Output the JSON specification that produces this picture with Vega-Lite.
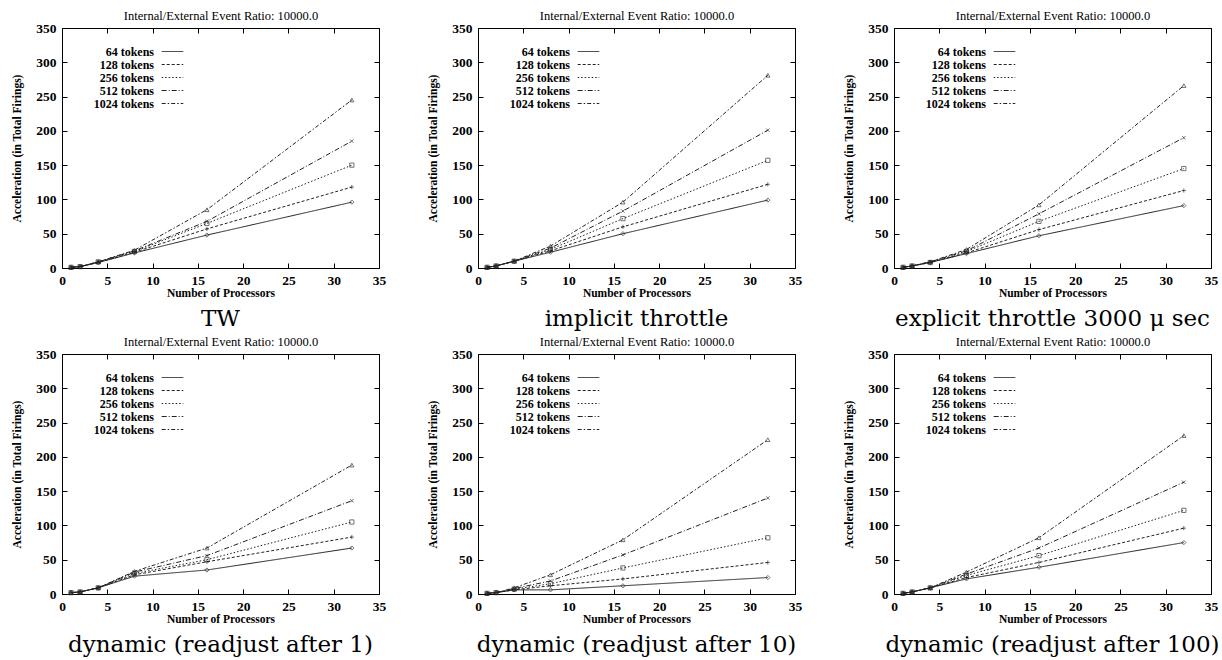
{
  "$schema": "https://vega.github.io/schema/vega-lite/v6.json",
  "background": "white",
  "padding": {"left": 11, "top": 9, "right": 0, "bottom": 0},
  "data": {"values": [
    {"panel":"TW","series":"64 tokens","procs":1,"accel":1},{"panel":"TW","series":"64 tokens","procs":2,"accel":2},{"panel":"TW","series":"64 tokens","procs":4,"accel":8},{"panel":"TW","series":"64 tokens","procs":8,"accel":22},{"panel":"TW","series":"64 tokens","procs":16,"accel":48},{"panel":"TW","series":"64 tokens","procs":32,"accel":96},
    {"panel":"TW","series":"128 tokens","procs":1,"accel":1},{"panel":"TW","series":"128 tokens","procs":2,"accel":2},{"panel":"TW","series":"128 tokens","procs":4,"accel":8},{"panel":"TW","series":"128 tokens","procs":8,"accel":23},{"panel":"TW","series":"128 tokens","procs":16,"accel":57},{"panel":"TW","series":"128 tokens","procs":32,"accel":118},
    {"panel":"TW","series":"256 tokens","procs":1,"accel":1},{"panel":"TW","series":"256 tokens","procs":2,"accel":2},{"panel":"TW","series":"256 tokens","procs":4,"accel":9},{"panel":"TW","series":"256 tokens","procs":8,"accel":24},{"panel":"TW","series":"256 tokens","procs":16,"accel":65},{"panel":"TW","series":"256 tokens","procs":32,"accel":150},
    {"panel":"TW","series":"512 tokens","procs":1,"accel":1},{"panel":"TW","series":"512 tokens","procs":2,"accel":2},{"panel":"TW","series":"512 tokens","procs":4,"accel":9},{"panel":"TW","series":"512 tokens","procs":8,"accel":25},{"panel":"TW","series":"512 tokens","procs":16,"accel":68},{"panel":"TW","series":"512 tokens","procs":32,"accel":185},
    {"panel":"TW","series":"1024 tokens","procs":1,"accel":1},{"panel":"TW","series":"1024 tokens","procs":2,"accel":2},{"panel":"TW","series":"1024 tokens","procs":4,"accel":9},{"panel":"TW","series":"1024 tokens","procs":8,"accel":26},{"panel":"TW","series":"1024 tokens","procs":16,"accel":85},{"panel":"TW","series":"1024 tokens","procs":32,"accel":245},

    {"panel":"implicit throttle","series":"64 tokens","procs":1,"accel":1},{"panel":"implicit throttle","series":"64 tokens","procs":2,"accel":3},{"panel":"implicit throttle","series":"64 tokens","procs":4,"accel":10},{"panel":"implicit throttle","series":"64 tokens","procs":8,"accel":23},{"panel":"implicit throttle","series":"64 tokens","procs":16,"accel":50},{"panel":"implicit throttle","series":"64 tokens","procs":32,"accel":99},
    {"panel":"implicit throttle","series":"128 tokens","procs":1,"accel":1},{"panel":"implicit throttle","series":"128 tokens","procs":2,"accel":3},{"panel":"implicit throttle","series":"128 tokens","procs":4,"accel":10},{"panel":"implicit throttle","series":"128 tokens","procs":8,"accel":25},{"panel":"implicit throttle","series":"128 tokens","procs":16,"accel":60},{"panel":"implicit throttle","series":"128 tokens","procs":32,"accel":122},
    {"panel":"implicit throttle","series":"256 tokens","procs":1,"accel":1},{"panel":"implicit throttle","series":"256 tokens","procs":2,"accel":3},{"panel":"implicit throttle","series":"256 tokens","procs":4,"accel":10},{"panel":"implicit throttle","series":"256 tokens","procs":8,"accel":27},{"panel":"implicit throttle","series":"256 tokens","procs":16,"accel":72},{"panel":"implicit throttle","series":"256 tokens","procs":32,"accel":157},
    {"panel":"implicit throttle","series":"512 tokens","procs":1,"accel":1},{"panel":"implicit throttle","series":"512 tokens","procs":2,"accel":3},{"panel":"implicit throttle","series":"512 tokens","procs":4,"accel":10},{"panel":"implicit throttle","series":"512 tokens","procs":8,"accel":29},{"panel":"implicit throttle","series":"512 tokens","procs":16,"accel":83},{"panel":"implicit throttle","series":"512 tokens","procs":32,"accel":201},
    {"panel":"implicit throttle","series":"1024 tokens","procs":1,"accel":1},{"panel":"implicit throttle","series":"1024 tokens","procs":2,"accel":3},{"panel":"implicit throttle","series":"1024 tokens","procs":4,"accel":10},{"panel":"implicit throttle","series":"1024 tokens","procs":8,"accel":32},{"panel":"implicit throttle","series":"1024 tokens","procs":16,"accel":96},{"panel":"implicit throttle","series":"1024 tokens","procs":32,"accel":281},

    {"panel":"explicit throttle 3000 μ sec","series":"64 tokens","procs":1,"accel":1},{"panel":"explicit throttle 3000 μ sec","series":"64 tokens","procs":2,"accel":3},{"panel":"explicit throttle 3000 μ sec","series":"64 tokens","procs":4,"accel":8},{"panel":"explicit throttle 3000 μ sec","series":"64 tokens","procs":8,"accel":21},{"panel":"explicit throttle 3000 μ sec","series":"64 tokens","procs":16,"accel":47},{"panel":"explicit throttle 3000 μ sec","series":"64 tokens","procs":32,"accel":91},
    {"panel":"explicit throttle 3000 μ sec","series":"128 tokens","procs":1,"accel":1},{"panel":"explicit throttle 3000 μ sec","series":"128 tokens","procs":2,"accel":3},{"panel":"explicit throttle 3000 μ sec","series":"128 tokens","procs":4,"accel":8},{"panel":"explicit throttle 3000 μ sec","series":"128 tokens","procs":8,"accel":22},{"panel":"explicit throttle 3000 μ sec","series":"128 tokens","procs":16,"accel":56},{"panel":"explicit throttle 3000 μ sec","series":"128 tokens","procs":32,"accel":113},
    {"panel":"explicit throttle 3000 μ sec","series":"256 tokens","procs":1,"accel":1},{"panel":"explicit throttle 3000 μ sec","series":"256 tokens","procs":2,"accel":3},{"panel":"explicit throttle 3000 μ sec","series":"256 tokens","procs":4,"accel":8},{"panel":"explicit throttle 3000 μ sec","series":"256 tokens","procs":8,"accel":24},{"panel":"explicit throttle 3000 μ sec","series":"256 tokens","procs":16,"accel":68},{"panel":"explicit throttle 3000 μ sec","series":"256 tokens","procs":32,"accel":145},
    {"panel":"explicit throttle 3000 μ sec","series":"512 tokens","procs":1,"accel":1},{"panel":"explicit throttle 3000 μ sec","series":"512 tokens","procs":2,"accel":3},{"panel":"explicit throttle 3000 μ sec","series":"512 tokens","procs":4,"accel":9},{"panel":"explicit throttle 3000 μ sec","series":"512 tokens","procs":8,"accel":25},{"panel":"explicit throttle 3000 μ sec","series":"512 tokens","procs":16,"accel":79},{"panel":"explicit throttle 3000 μ sec","series":"512 tokens","procs":32,"accel":190},
    {"panel":"explicit throttle 3000 μ sec","series":"1024 tokens","procs":1,"accel":1},{"panel":"explicit throttle 3000 μ sec","series":"1024 tokens","procs":2,"accel":3},{"panel":"explicit throttle 3000 μ sec","series":"1024 tokens","procs":4,"accel":9},{"panel":"explicit throttle 3000 μ sec","series":"1024 tokens","procs":8,"accel":27},{"panel":"explicit throttle 3000 μ sec","series":"1024 tokens","procs":16,"accel":92},{"panel":"explicit throttle 3000 μ sec","series":"1024 tokens","procs":32,"accel":266},

    {"panel":"dynamic (readjust after 1)","series":"64 tokens","procs":1,"accel":2},{"panel":"dynamic (readjust after 1)","series":"64 tokens","procs":2,"accel":3},{"panel":"dynamic (readjust after 1)","series":"64 tokens","procs":4,"accel":9},{"panel":"dynamic (readjust after 1)","series":"64 tokens","procs":8,"accel":26},{"panel":"dynamic (readjust after 1)","series":"64 tokens","procs":16,"accel":35},{"panel":"dynamic (readjust after 1)","series":"64 tokens","procs":32,"accel":67},
    {"panel":"dynamic (readjust after 1)","series":"128 tokens","procs":1,"accel":2},{"panel":"dynamic (readjust after 1)","series":"128 tokens","procs":2,"accel":3},{"panel":"dynamic (readjust after 1)","series":"128 tokens","procs":4,"accel":9},{"panel":"dynamic (readjust after 1)","series":"128 tokens","procs":8,"accel":28},{"panel":"dynamic (readjust after 1)","series":"128 tokens","procs":16,"accel":47},{"panel":"dynamic (readjust after 1)","series":"128 tokens","procs":32,"accel":83},
    {"panel":"dynamic (readjust after 1)","series":"256 tokens","procs":1,"accel":2},{"panel":"dynamic (readjust after 1)","series":"256 tokens","procs":2,"accel":3},{"panel":"dynamic (readjust after 1)","series":"256 tokens","procs":4,"accel":9},{"panel":"dynamic (readjust after 1)","series":"256 tokens","procs":8,"accel":30},{"panel":"dynamic (readjust after 1)","series":"256 tokens","procs":16,"accel":50},{"panel":"dynamic (readjust after 1)","series":"256 tokens","procs":32,"accel":105},
    {"panel":"dynamic (readjust after 1)","series":"512 tokens","procs":1,"accel":2},{"panel":"dynamic (readjust after 1)","series":"512 tokens","procs":2,"accel":3},{"panel":"dynamic (readjust after 1)","series":"512 tokens","procs":4,"accel":9},{"panel":"dynamic (readjust after 1)","series":"512 tokens","procs":8,"accel":32},{"panel":"dynamic (readjust after 1)","series":"512 tokens","procs":16,"accel":56},{"panel":"dynamic (readjust after 1)","series":"512 tokens","procs":32,"accel":136},
    {"panel":"dynamic (readjust after 1)","series":"1024 tokens","procs":1,"accel":2},{"panel":"dynamic (readjust after 1)","series":"1024 tokens","procs":2,"accel":3},{"panel":"dynamic (readjust after 1)","series":"1024 tokens","procs":4,"accel":9},{"panel":"dynamic (readjust after 1)","series":"1024 tokens","procs":8,"accel":33},{"panel":"dynamic (readjust after 1)","series":"1024 tokens","procs":16,"accel":67},{"panel":"dynamic (readjust after 1)","series":"1024 tokens","procs":32,"accel":188},

    {"panel":"dynamic (readjust after 10)","series":"64 tokens","procs":1,"accel":1},{"panel":"dynamic (readjust after 10)","series":"64 tokens","procs":2,"accel":2},{"panel":"dynamic (readjust after 10)","series":"64 tokens","procs":4,"accel":6},{"panel":"dynamic (readjust after 10)","series":"64 tokens","procs":8,"accel":6},{"panel":"dynamic (readjust after 10)","series":"64 tokens","procs":16,"accel":12},{"panel":"dynamic (readjust after 10)","series":"64 tokens","procs":32,"accel":24},
    {"panel":"dynamic (readjust after 10)","series":"128 tokens","procs":1,"accel":1},{"panel":"dynamic (readjust after 10)","series":"128 tokens","procs":2,"accel":2},{"panel":"dynamic (readjust after 10)","series":"128 tokens","procs":4,"accel":6},{"panel":"dynamic (readjust after 10)","series":"128 tokens","procs":8,"accel":12},{"panel":"dynamic (readjust after 10)","series":"128 tokens","procs":16,"accel":22},{"panel":"dynamic (readjust after 10)","series":"128 tokens","procs":32,"accel":46},
    {"panel":"dynamic (readjust after 10)","series":"256 tokens","procs":1,"accel":1},{"panel":"dynamic (readjust after 10)","series":"256 tokens","procs":2,"accel":2},{"panel":"dynamic (readjust after 10)","series":"256 tokens","procs":4,"accel":7},{"panel":"dynamic (readjust after 10)","series":"256 tokens","procs":8,"accel":15},{"panel":"dynamic (readjust after 10)","series":"256 tokens","procs":16,"accel":38},{"panel":"dynamic (readjust after 10)","series":"256 tokens","procs":32,"accel":82},
    {"panel":"dynamic (readjust after 10)","series":"512 tokens","procs":1,"accel":1},{"panel":"dynamic (readjust after 10)","series":"512 tokens","procs":2,"accel":2},{"panel":"dynamic (readjust after 10)","series":"512 tokens","procs":4,"accel":8},{"panel":"dynamic (readjust after 10)","series":"512 tokens","procs":8,"accel":19},{"panel":"dynamic (readjust after 10)","series":"512 tokens","procs":16,"accel":57},{"panel":"dynamic (readjust after 10)","series":"512 tokens","procs":32,"accel":140},
    {"panel":"dynamic (readjust after 10)","series":"1024 tokens","procs":1,"accel":1},{"panel":"dynamic (readjust after 10)","series":"1024 tokens","procs":2,"accel":2},{"panel":"dynamic (readjust after 10)","series":"1024 tokens","procs":4,"accel":9},{"panel":"dynamic (readjust after 10)","series":"1024 tokens","procs":8,"accel":28},{"panel":"dynamic (readjust after 10)","series":"1024 tokens","procs":16,"accel":79},{"panel":"dynamic (readjust after 10)","series":"1024 tokens","procs":32,"accel":225},

    {"panel":"dynamic (readjust after 100)","series":"64 tokens","procs":1,"accel":1},{"panel":"dynamic (readjust after 100)","series":"64 tokens","procs":2,"accel":3},{"panel":"dynamic (readjust after 100)","series":"64 tokens","procs":4,"accel":9},{"panel":"dynamic (readjust after 100)","series":"64 tokens","procs":8,"accel":22},{"panel":"dynamic (readjust after 100)","series":"64 tokens","procs":16,"accel":39},{"panel":"dynamic (readjust after 100)","series":"64 tokens","procs":32,"accel":75},
    {"panel":"dynamic (readjust after 100)","series":"128 tokens","procs":1,"accel":1},{"panel":"dynamic (readjust after 100)","series":"128 tokens","procs":2,"accel":3},{"panel":"dynamic (readjust after 100)","series":"128 tokens","procs":4,"accel":9},{"panel":"dynamic (readjust after 100)","series":"128 tokens","procs":8,"accel":24},{"panel":"dynamic (readjust after 100)","series":"128 tokens","procs":16,"accel":46},{"panel":"dynamic (readjust after 100)","series":"128 tokens","procs":32,"accel":96},
    {"panel":"dynamic (readjust after 100)","series":"256 tokens","procs":1,"accel":1},{"panel":"dynamic (readjust after 100)","series":"256 tokens","procs":2,"accel":3},{"panel":"dynamic (readjust after 100)","series":"256 tokens","procs":4,"accel":9},{"panel":"dynamic (readjust after 100)","series":"256 tokens","procs":8,"accel":27},{"panel":"dynamic (readjust after 100)","series":"256 tokens","procs":16,"accel":56},{"panel":"dynamic (readjust after 100)","series":"256 tokens","procs":32,"accel":122},
    {"panel":"dynamic (readjust after 100)","series":"512 tokens","procs":1,"accel":1},{"panel":"dynamic (readjust after 100)","series":"512 tokens","procs":2,"accel":3},{"panel":"dynamic (readjust after 100)","series":"512 tokens","procs":4,"accel":9},{"panel":"dynamic (readjust after 100)","series":"512 tokens","procs":8,"accel":29},{"panel":"dynamic (readjust after 100)","series":"512 tokens","procs":16,"accel":67},{"panel":"dynamic (readjust after 100)","series":"512 tokens","procs":32,"accel":163},
    {"panel":"dynamic (readjust after 100)","series":"1024 tokens","procs":1,"accel":1},{"panel":"dynamic (readjust after 100)","series":"1024 tokens","procs":2,"accel":3},{"panel":"dynamic (readjust after 100)","series":"1024 tokens","procs":4,"accel":9},{"panel":"dynamic (readjust after 100)","series":"1024 tokens","procs":8,"accel":32},{"panel":"dynamic (readjust after 100)","series":"1024 tokens","procs":16,"accel":82},{"panel":"dynamic (readjust after 100)","series":"1024 tokens","procs":32,"accel":231}
  ]},
  "facet": {
    "field": "panel", "type": "nominal",
    "sort": ["TW", "implicit throttle", "explicit throttle 3000 μ sec", "dynamic (readjust after 1)", "dynamic (readjust after 10)", "dynamic (readjust after 100)"],
    "header": {"title": null, "labelOrient": "bottom", "labelFont": "DejaVu Serif", "labelFontSize": 23, "labelColor": "black", "labelPadding": 9}
  },
  "columns": 3,
  "spacing": {"column": 39, "row": 4},
  "resolve": {"axis": {"x": "independent", "y": "independent"}, "legend": {"strokeDash": "independent"}},
  "spec": {
    "width": 317,
    "height": 240,
    "layer": [
      {
        "mark": {"type": "line", "color": "#222", "strokeWidth": 1},
        "encoding": {
          "x": {"field": "procs", "type": "quantitative", "scale": {"domain": [0, 35], "nice": false},
            "axis": {"orient": "bottom", "title": "Number of Processors", "values": [0,5,10,15,20,25,30,35], "tickSize": -5, "labelPadding": 10, "titlePadding": 1}},
          "y": {"field": "accel", "type": "quantitative", "scale": {"domain": [0, 350], "nice": false},
            "axis": {"orient": "left", "title": "Acceleration (in Total Firings)", "values": [0,50,100,150,200,250,300,350], "tickSize": -5, "labelPadding": 11, "titlePadding": 13}},
          "strokeDash": {"field": "series", "type": "nominal",
            "scale": {"domain": ["64 tokens", "128 tokens", "256 tokens", "512 tokens", "1024 tokens"], "range": [[1, 0], [3, 2], [1.5, 2], [5, 2, 1, 2], [4, 2, 1.5, 2]]},
            "legend": {"title": null, "orient": "none", "legendX": 104, "legendY": 17, "symbolType": "M-1.8,0L1.8,0", "symbolSize": 144, "symbolStrokeWidth": 1, "symbolStrokeColor": "#222", "symbolFillColor": "transparent", "labelAlign": "right", "labelOffset": -25, "labelFont": "Liberation Serif", "labelFontSize": 12, "labelFontWeight": "bold", "labelColor": "black", "rowPadding": -0.7, "labelLimit": 200}}
        }
      },
      {
        "mark": {"type": "point", "color": "#222", "size": 18, "strokeWidth": 0.9, "filled": false},
        "encoding": {
          "x": {"field": "procs", "type": "quantitative",
            "axis": {"orient": "top", "labels": false, "title": "Internal/External Event Ratio: 10000.0", "values": [0,5,10,15,20,25,30,35], "tickSize": -5, "titlePadding": 5, "titleFontSize": 12.5, "titleFontWeight": "normal"}},
          "y": {"field": "accel", "type": "quantitative",
            "axis": {"orient": "right", "labels": false, "title": null, "values": [0,50,100,150,200,250,300,350], "tickSize": -5}},
          "shape": {"field": "series", "type": "nominal",
            "scale": {"domain": ["64 tokens", "128 tokens", "256 tokens", "512 tokens", "1024 tokens"], "range": ["diamond", "M-1,0L1,0M0,-1L0,1", "square", "M-0.8,-0.8L0.8,0.8M-0.8,0.8L0.8,-0.8", "triangle-up"]},
            "legend": null}
        }
      }
    ],
    "resolve": {"axis": {"x": "independent", "y": "independent"}}
  },
  "config": {
    "view": {"stroke": null},
    "axis": {
      "grid": false, "domainColor": "black", "tickColor": "black", "domainWidth": 1, "tickWidth": 1,
      "labelFont": "Liberation Serif", "labelFontSize": 13.5, "labelFontWeight": "bold", "labelColor": "black", "labelFlush": false,
      "titleFont": "Liberation Serif", "titleFontSize": 11.5, "titleFontWeight": "bold", "titleColor": "black"
    }
  }
}
